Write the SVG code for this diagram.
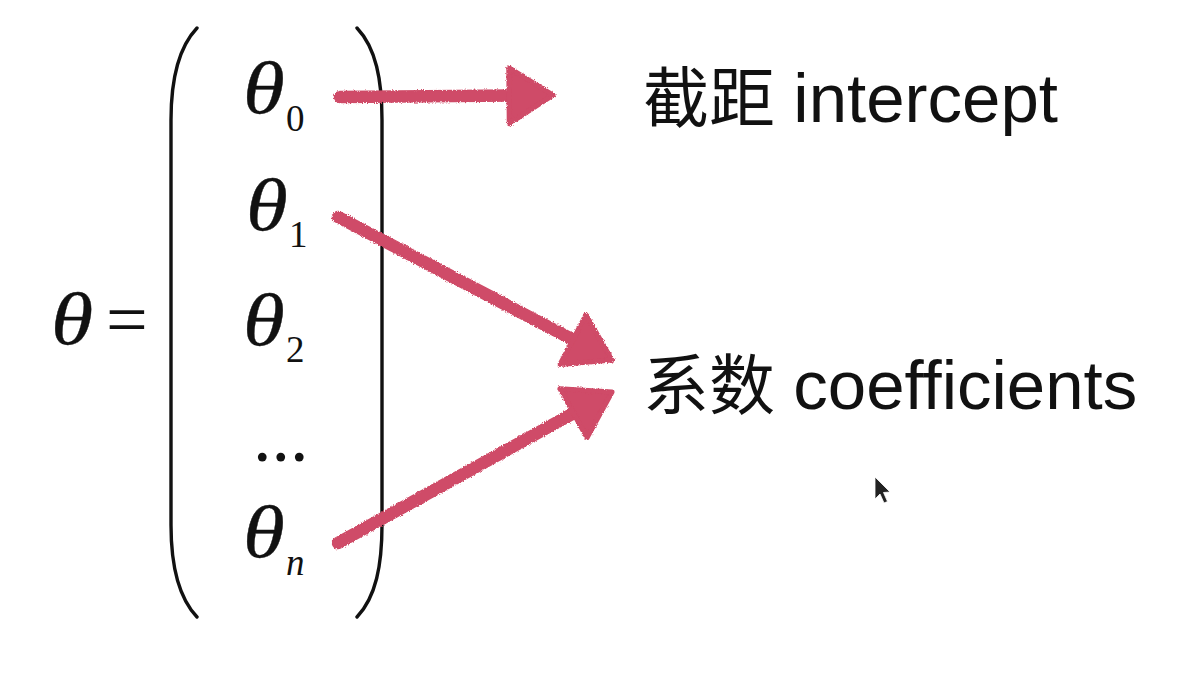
<svg xmlns="http://www.w3.org/2000/svg" width="1177" height="685" viewBox="0 0 1177 685">
<defs>
<style>
.m{font-family:"Liberation Serif","Times New Roman",serif;font-style:italic;fill:#111;}
.th{font-size:74px;stroke:#111;stroke-width:0.35;}
.r{font-family:"Liberation Serif","Times New Roman",serif;fill:#111;}
.lbl{font-family:"Liberation Sans","Noto Sans CJK SC",sans-serif;font-size:66px;fill:#111;}
.lat{font-size:69px;}
.paren{fill:none;stroke:#111;stroke-width:3.4;stroke-linecap:round;}
.arr{fill:none;stroke:#cf4b67;stroke-width:12.5;stroke-linecap:round;}
</style>
<filter id="chalk" filterUnits="userSpaceOnUse" x="0" y="0" width="1177" height="685">
<feTurbulence type="fractalNoise" baseFrequency="0.9" numOctaves="2" seed="3" result="n"/>
<feDisplacementMap in="SourceGraphic" in2="n" scale="3.5" xChannelSelector="R" yChannelSelector="G"/>
</filter>
<marker id="ah" markerUnits="userSpaceOnUse" viewBox="-4 -4 52 64" markerWidth="52" markerHeight="64" refX="4" refY="28" orient="auto">
<path d="M0,0 L44,28 L0,56 Z" fill="#cf4b67" stroke="#cf4b67" stroke-width="5" stroke-linejoin="round"/>
</marker>
</defs>
<rect width="1177" height="685" fill="#fff"/>
<g id="lhs">
<text class="m th" transform="translate(51,344) scale(1.16,1)">θ</text>
<text class="r" x="106" y="344" font-size="74">=</text>
</g>
<g id="matrix">
<path class="paren" d="M197,28 C178,48 171,80 171,120 L171,525 C171,565 178,597 197,617"/>
<path class="paren" d="M357,28 C376,48 382,80 382,120 L382,525 C382,565 376,597 357,617"/>
</g>
<g id="theta0"><text class="m th" transform="translate(243,113) scale(1.15,1)">θ</text><text class="r" x="286" y="131" font-size="37">0</text></g>
<g id="theta1"><text class="m th" transform="translate(246,230) scale(1.15,1)">θ</text><text class="r" x="289" y="247" font-size="37">1</text></g>
<g id="theta2"><text class="m th" transform="translate(243,345) scale(1.15,1)">θ</text><text class="r" x="286" y="362" font-size="37">2</text></g>
<g id="dots"><text class="r" x="253" y="461" font-size="74">...</text></g>
<g id="thetan"><text class="m th" transform="translate(243,557) scale(1.15,1)">θ</text><text class="m" x="286" y="575" font-size="37">n</text></g>
<g id="intercept"><text class="lbl" x="643" y="122">截距 <tspan class="lat">intercept</tspan></text></g>
<g id="coefficients"><text class="lbl" x="643" y="409">系数 <tspan class="lat">coefficients</tspan></text></g>
<g id="connectors" filter="url(#chalk)">
<line class="arr" x1="340" y1="97" x2="513" y2="95.5" marker-end="url(#ah)"/>
<line class="arr" x1="338" y1="217" x2="576.5" y2="341.5" marker-end="url(#ah)"/>
<line class="arr" x1="338" y1="543" x2="577" y2="411.3" marker-end="url(#ah)"/>
</g>
<g id="cursor">
<path d="M875,477 L875,499 L880,494 L884,503 L887.5,501.5 L883.5,492.5 L890,492 Z" fill="#222" stroke="#fff" stroke-width="0.8"/>
</g>
</svg>
